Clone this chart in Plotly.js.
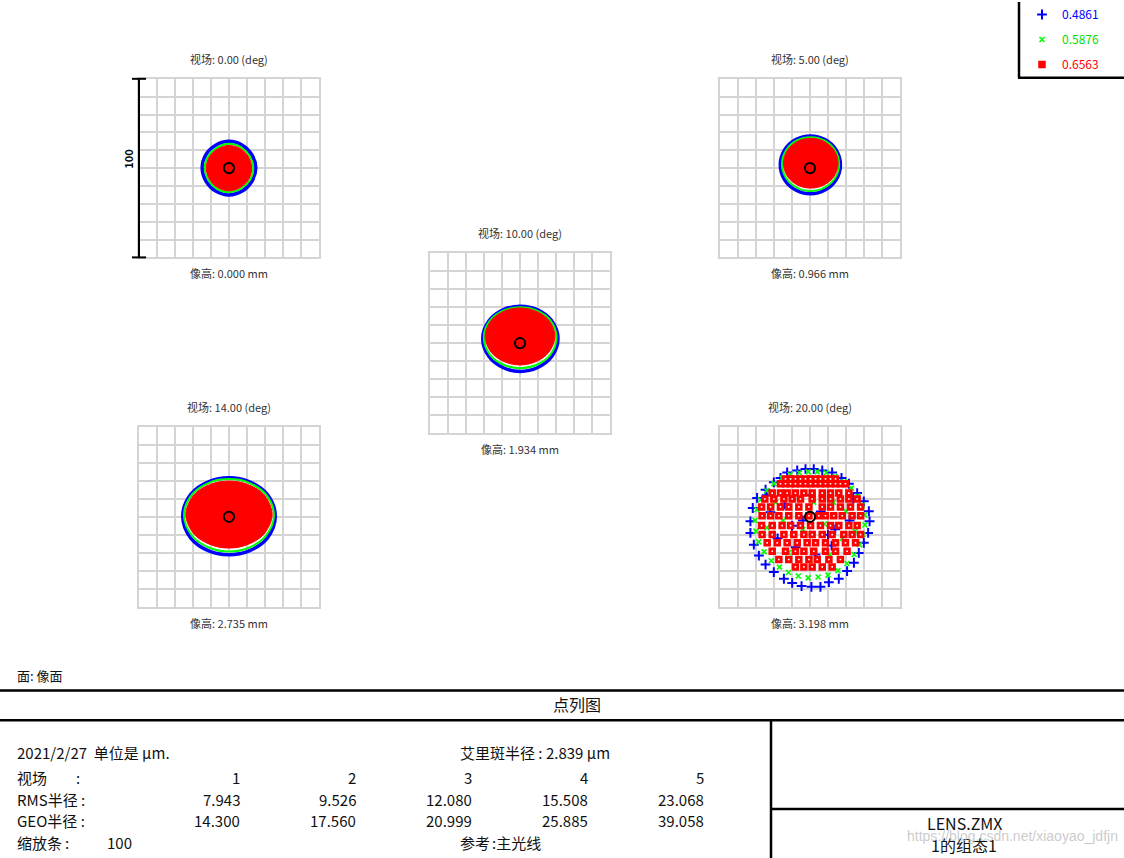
<!DOCTYPE html>
<html><head><meta charset="utf-8">
<script src="https://cdn.plot.ly/plotly-3.0.1.min.js"></script>
<style>html,body{margin:0;padding:0;background:#fff}#chart{width:1124px;height:858px}</style>
</head><body><div id="chart"></div>
<script>
// ---------------- DATA ----------------
const FIELD_NUM = ['1', '2', '3', '4', '5'];
const FIELD_DEG = ['0.00', '5.00', '10.00', '14.00', '20.00'];
const IMG_HT = ['0.000', '0.966', '1.934', '2.735', '3.198'];
const RMS_RADIUS = ['7.943', '9.526', '12.080', '15.508', '23.068'];
const GEO_RADIUS = ['14.300', '17.560', '20.999', '25.885', '39.058'];
const AIRY_RADIUS = 2.839;
const WAVELENGTHS = ['0.4861', '0.5876', '0.6563'];
const SCALE_BAR = 100;
const DATE_TEXT = '2021/2/27';
const FILE_NAME = 'LENS.ZMX';
const CONFIG_TEXT = '1的组态1';

// fields 1-4: spot outlines read at these polar angles (deg) around each centre (um)
const ANGLES = [0, 30, 60, 90, 120, 150, 180, 210, 240, 270, 300, 330];
const BLUE_C = [[0, 0], [0.2, 1.9], [0.2, 2.6], [0, 0.4]];
const GREEN_C = [[0, 0], [0.3, 2.3], [0.1, 3.2], [0, 1.0]];
const RED_C = [[0, 0], [0.4, 2.8], [0, 3.9], [0, 1.4]];
const BLUE_R = [
  [14.9, 14.7, 14.8, 15.0, 14.8, 14.9, 14.9, 14.7, 14.8, 15.0, 14.8, 14.7],
  [16.7, 16.5, 16.2, 16.1, 16.2, 16.5, 16.7, 16.6, 16.3, 16.2, 16.3, 16.6],
  [20.9, 20.0, 18.6, 18.0, 18.6, 20.0, 20.9, 20.1, 18.8, 18.3, 18.8, 20.1],
  [25.7, 24.4, 22.2, 21.3, 22.2, 24.4, 25.7, 24.5, 22.4, 21.6, 22.4, 24.5]
];
const GREEN_R = [
  [13.5, 13.3, 13.4, 13.6, 13.3, 13.4, 13.5, 13.3, 13.4, 13.5, 13.3, 13.4],
  [15.9, 15.6, 15.2, 15.0, 15.2, 15.6, 15.9, 15.7, 15.3, 15.1, 15.3, 15.7],
  [20.2, 19.2, 17.5, 16.8, 17.5, 19.2, 20.2, 19.3, 17.7, 17.1, 17.7, 19.3],
  [25.0, 23.4, 21.0, 20.0, 21.0, 23.4, 25.0, 23.5, 21.2, 20.3, 21.2, 23.5]
];
const RED_R = [
  [12.6, 12.5, 12.6, 12.7, 12.5, 12.6, 12.6, 12.5, 12.6, 12.7, 12.5, 12.6],
  [15.2, 14.8, 14.2, 13.9, 14.2, 14.8, 15.2, 14.9, 14.3, 14.0, 14.3, 14.9],
  [19.4, 18.2, 16.4, 15.7, 16.4, 18.2, 19.4, 18.3, 16.6, 16.0, 16.6, 18.3],
  [24.0, 22.2, 19.5, 18.5, 19.5, 22.2, 24.0, 22.3, 19.7, 18.8, 19.7, 22.3]
];

// field 5: individual ray points (um)
const RED5_ROW_Y = [21.1, 18.4, 13.2, 9.9, 5.5, 0.6, -4.9, -9.9, -14.5, -19.2, -23.8, -27.9];
const RED5_ROW_X = [
  [-13.6, -10.8, -8.1, -5.3, -2.5, 0.3, 3.1, 5.8, 8.6, 11.4, 14.2],
  [-16.4, -13.6, -10.8, -8.1, -5.3, -2.5, 0.3, 3.1, 5.8, 8.6, 11.4, 14.2, 16.9, 19.7],
  [-21.0, -16.4, -12.7, -8.1, -3.4, 1.2, 6.8, 11.4, 16.0, 21.6],
  [-25.1, -20.1, -14.5, -9.9, -5.3, 1.2, 6.8, 11.4, 16.9, 21.6, 26.2],
  [-26.9, -21.9, -16.4, -11.8, -6.2, -0.6, 6.8, 11.4, 16.9, 22.5, 28.1],
  [-26.6, -21.9, -17.3, -11.8, -6.2, -0.6, 4.9, 8.6, 13.2, 17.9, 23.4, 28.1],
  [-26.9, -21.0, -15.5, -10.8, -5.3, 0.3, 5.8, 11.4, 16.0, 21.6, 26.2],
  [-26.6, -21.0, -14.5, -9.0, -3.4, 1.2, 6.8, 12.3, 18.8, 23.4, 28.1],
  [-23.8, -18.2, -12.7, -7.1, -1.6, 3.1, 8.6, 14.2, 19.7, 25.3],
  [-21.0, -13.6, -8.1, -3.4, 2.1, 8.6, 14.2, 20.6],
  [-17.3, -11.8, -6.2, -0.6, 4.0, 10.5, 16.9],
  [-8.1, -3.4, 1.2, 6.8, 12.3]
];
const BLUE5_X = [-12.7, -7.1, -2.5, 2.1, 6.8, 12.3, 17.5, 21.6, 26.2, 29.9, 32.7, 33.1, 32.3, 29.9, 27.1, 24.4, 20.6, 16.0, 10.5, 5.8, 0.8, -4.7, -9.9, -14.5, -20.1, -24.7, -28.4, -31.2, -33.1, -33.1, -31.8, -29.4, -24.7, -20.1, -16.4,
  -22, -14, -4, 6, 14, 22, -18, -8, 3, 12, 24, -24, 0, -10, 10];
const BLUE5_Y = [24.7, 25.8, 26.6, 26.6, 25.8, 24.7, 21.6, 18.4, 13.2, 8.6, 3.1, -2.5, -9.0, -14.5, -20.1, -25.6, -30.2, -34.5, -36.4, -39.0, -39.0, -38.6, -36.8, -34.5, -30.8, -26.6, -21.6, -15.5, -9.0, -2.5, 4.9, 10.5, 15.1, 19.2, 21.6,
  2.5, 7, -2, 3, -7, -2, -12, -17, -21, -16, 10, 12, 12, -5, -10];
const GREEN5_X = [-11, -6, -1, 4, 9, 14, 19, 23, 26.5, 29, 30.5, 30.5, 29.5, 27.5, 24.5, 20.5, 15.5, 10, 4.5, -1, -6.5, -12, -17, -21.5, -25.5, -28.5, -30, -30.5, -29.5, -27.5, -24, -20, -15.5,
  -19, -9, 2, 13, 20, -15, -4, 8, 18, -12, 0, 11, -24, 25];
const GREEN5_Y = [23.5, 24.5, 25, 25, 24.5, 22.5, 19.5, 16, 11.5, 6.5, 1, -4.5, -10, -15.5, -21, -26, -30, -32.5, -33.5, -34, -33, -31, -28, -24.5, -19.5, -14, -8, -2, 4, 9.5, 14.5, 18.5, 21.5,
  8, 11, 8, 8, 3, -2, -7, -4, -12, -20, -24, -21, -6, -8];

// ---------------- LAYOUT HELPERS ----------------
const W = 1124, H = 858;
const PANELS = [ // pixel boxes of the five spot panels
  {x0: 139, x1: 319, y0: 77, y1: 256},
  {x0: 720, x1: 900, y0: 77, y1: 256},
  {x0: 430, x1: 610, y0: 252, y1: 432},
  {x0: 139, x1: 319, y0: 426, y1: 606},
  {x0: 720, x1: 900, y0: 426, y1: 606}
];
const FONT = "'Liberation Sans Narrow', 'Noto Sans CJK SC', sans-serif";
const CJK = "'Noto Sans CJK SC', sans-serif";
const px = v => v / W, py = v => 1 - v / H;
const DEG = Math.PI / 180;
function ring(c, radii) {
  const x = [], y = [];
  ANGLES.forEach((a, i) => { x.push(c[0] + radii[i] * Math.cos(a * DEG)); y.push(c[1] + radii[i] * Math.sin(a * DEG)); });
  x.push(x[0]); y.push(y[0]);
  return {x, y};
}
const axId = i => (i === 0 ? '' : String(i + 1));

const layout = {
  width: W, height: H, margin: {l: 0, r: 0, t: 0, b: 0},
  paper_bgcolor: '#fff', plot_bgcolor: '#fff',
  showlegend: true,
  legend: {x: px(1022), xanchor: 'left', y: py(-2), yanchor: 'top', bgcolor: 'rgba(0,0,0,0)',
           font: {family: FONT, size: 12}, tracegroupgap: 6, borderwidth: 0},
  shapes: [], annotations: []
};
const traces = [];

PANELS.forEach((p, i) => {
  const a = axId(i);
  const axBase = {range: [-50, 50], dtick: 10, tick0: 0, showgrid: true, gridcolor: '#d4d4d4', gridwidth: 2,
                  zeroline: false, showticklabels: false, ticks: '', showline: true, mirror: true,
                  linecolor: '#d4d4d4', linewidth: 2, fixedrange: true};
  layout['xaxis' + a] = Object.assign({}, axBase, {domain: [px(p.x0), px(p.x1)], anchor: 'y' + a});
  layout['yaxis' + a] = Object.assign({}, axBase, {domain: [py(p.y1), py(p.y0)], anchor: 'x' + a});
  const cx = (p.x0 + p.x1) / 2;
  layout.annotations.push({xref: 'paper', yref: 'paper', x: px(cx), y: py(p.y0 - 20), text: '视场: ' + FIELD_DEG[i] + ' (deg)',
    showarrow: false, xanchor: 'center', yanchor: 'middle', font: {family: CJK, size: 11, color: '#333'}});
  layout.annotations.push({xref: 'paper', yref: 'paper', x: px(cx), y: py(p.y1 + 16), text: '像高: ' + IMG_HT[i] + ' mm',
    showarrow: false, xanchor: 'center', yanchor: 'middle', font: {family: CJK, size: 11, color: '#333'}});
  // Airy disk
  layout.shapes.push({type: 'circle', xref: 'x' + a, yref: 'y' + a, x0: -AIRY_RADIUS, x1: AIRY_RADIUS,
    y0: -AIRY_RADIUS, y1: AIRY_RADIUS, line: {color: '#000', width: 2}, layer: 'above'});
});

// fields 1-4 spots
for (let i = 0; i < 4; i++) {
  const a = axId(i);
  const b = ring(BLUE_C[i], BLUE_R[i]);
  const g = ring(GREEN_C[i], GREEN_R[i]);
  const r = ring(RED_C[i], RED_R[i]);
  traces.push({type: 'scatter', mode: 'lines', x: b.x, y: b.y, xaxis: 'x' + a, yaxis: 'y' + a,
    line: {color: '#0000ff', width: 3.5, shape: 'spline'}, showlegend: false, hoverinfo: 'skip'});
  traces.push({type: 'scatter', mode: 'lines', x: g.x, y: g.y, xaxis: 'x' + a, yaxis: 'y' + a,
    line: {color: '#00ff00', width: 2, shape: 'spline'}, showlegend: false, hoverinfo: 'skip'});
  traces.push({type: 'scatter', mode: 'lines', x: r.x, y: r.y, xaxis: 'x' + a, yaxis: 'y' + a, fill: 'toself',
    fillcolor: '#ff0000', line: {color: '#ff0000', width: 1, shape: 'spline'}, showlegend: false, hoverinfo: 'skip'});
}

// field 5 points
const red5x = [], red5y = [];
RED5_ROW_Y.forEach((yv, k) => RED5_ROW_X[k].forEach(xv => { red5x.push(xv); red5y.push(yv); }));
traces.push({type: 'scatter', mode: 'markers', x: BLUE5_X, y: BLUE5_Y, xaxis: 'x5', yaxis: 'y5',
  name: '<span style="color:#0000ff">' + WAVELENGTHS[0] + '</span>', legendgroup: 'a',
  marker: {symbol: 'cross-thin', size: 7, line: {color: '#0000ff', width: 2}}, hoverinfo: 'skip'});
traces.push({type: 'scatter', mode: 'markers', x: GREEN5_X, y: GREEN5_Y, xaxis: 'x5', yaxis: 'y5',
  name: '<span style="color:#00e000">' + WAVELENGTHS[1] + '</span>', legendgroup: 'b',
  marker: {symbol: 'x-thin', size: 5, line: {color: '#00ff00', width: 1.6}}, hoverinfo: 'skip'});
traces.push({type: 'scatter', mode: 'markers', x: red5x, y: red5y, xaxis: 'x5', yaxis: 'y5',
  name: '<span style="color:#ff0000">' + WAVELENGTHS[2] + '</span>', legendgroup: 'c',
  marker: {symbol: 'square', size: 7.5, color: '#ff0000', line: {width: 0}}, hoverinfo: 'skip'});
traces.push({type: 'scatter', mode: 'markers', x: red5x, y: red5y, xaxis: 'x5', yaxis: 'y5', showlegend: false,
  marker: {symbol: 'square', size: 1.6, color: '#ffffff', line: {width: 0}}, hoverinfo: 'skip'});

// scale bar
const P0 = PANELS[0];
layout.shapes.push({type: 'line', xref: 'paper', yref: 'paper', x0: px(139), x1: px(139), y0: py(P0.y0), y1: py(P0.y1), line: {color: '#000', width: 2}});
layout.shapes.push({type: 'line', xref: 'paper', yref: 'paper', x0: px(132), x1: px(146), y0: py(P0.y0), y1: py(P0.y0), line: {color: '#000', width: 2}});
layout.shapes.push({type: 'line', xref: 'paper', yref: 'paper', x0: px(132), x1: px(146), y0: py(P0.y1), y1: py(P0.y1), line: {color: '#000', width: 2}});
layout.annotations.push({xref: 'paper', yref: 'paper', x: px(128), y: py(158), text: '<b>' + SCALE_BAR + '</b>', textangle: -90,
  xanchor: 'center', yanchor: 'middle', showarrow: false, font: {family: FONT, size: 11, color: '#000'}});

// legend frame
layout.shapes.push({type: 'line', xref: 'paper', yref: 'paper', x0: px(1019), x1: px(1019), y0: py(0), y1: py(76), line: {color: '#000', width: 2.5}});
layout.shapes.push({type: 'line', xref: 'paper', yref: 'paper', x0: px(1018), x1: px(1124), y0: py(76), y1: py(76), line: {color: '#000', width: 2.5}});

// bottom table frame
[[0, 1124, 690, 690], [0, 1124, 720, 720], [771, 1124, 809, 809], [771, 771, 720, 858]].forEach(l =>
  layout.shapes.push({type: 'line', xref: 'paper', yref: 'paper', x0: px(l[0]), x1: px(l[1]), y0: py(l[2]), y1: py(l[3]), line: {color: '#000', width: 2.5}}));

function txt(text, x, y, anchor, size, extra) {
  layout.annotations.push(Object.assign({xref: 'paper', yref: 'paper', x: px(x), y: py(y), text: text, showarrow: false,
    xanchor: anchor, yanchor: 'middle', font: {family: FONT, size: size, color: '#111'}}, extra || {}));
}
txt('面: 像面', 15, 675, 'left', 13);
txt('点列图', 577, 704, 'center', 16);
txt(DATE_TEXT + '  单位是 µm.', 15, 752, 'left', 15);
txt('艾里斑半径 : ' + AIRY_RADIUS.toFixed(3) + ' µm', 458, 752, 'left', 15);
txt('视场', 15, 777, 'left', 15); txt(':', 78, 777, 'center', 15);
txt('RMS半径 :', 15, 799, 'left', 15);
txt('GEO半径 :', 15, 820, 'left', 15);
txt('缩放条', 15, 842, 'left', 15); txt(':', 67, 842, 'center', 15); txt(String(SCALE_BAR), 105, 842, 'left', 15);
txt('参考', 458, 842, 'left', 15); txt(':主光线', 490, 842, 'left', 15);
const COL_RIGHT = [242, 358, 474, 590, 706];
FIELD_NUM.forEach((v, i) => {
  txt(v, COL_RIGHT[i], 777, 'right', 15);
  txt(RMS_RADIUS[i], COL_RIGHT[i], 799, 'right', 15);
  txt(GEO_RADIUS[i], COL_RIGHT[i], 820, 'right', 15);
});
txt(FILE_NAME, 964, 823, 'center', 16);
txt(CONFIG_TEXT, 964, 845, 'center', 16);
txt('https://blog.csdn.net/xiaoyao_jdfjn', 1120, 836, 'right', 14, {font: {family: "'Liberation Sans', sans-serif", size: 14, color: 'rgba(190,190,190,0.8)'}});

Plotly.newPlot('chart', traces, layout, {displayModeBar: false, staticPlot: true});
</script>
</body></html>
